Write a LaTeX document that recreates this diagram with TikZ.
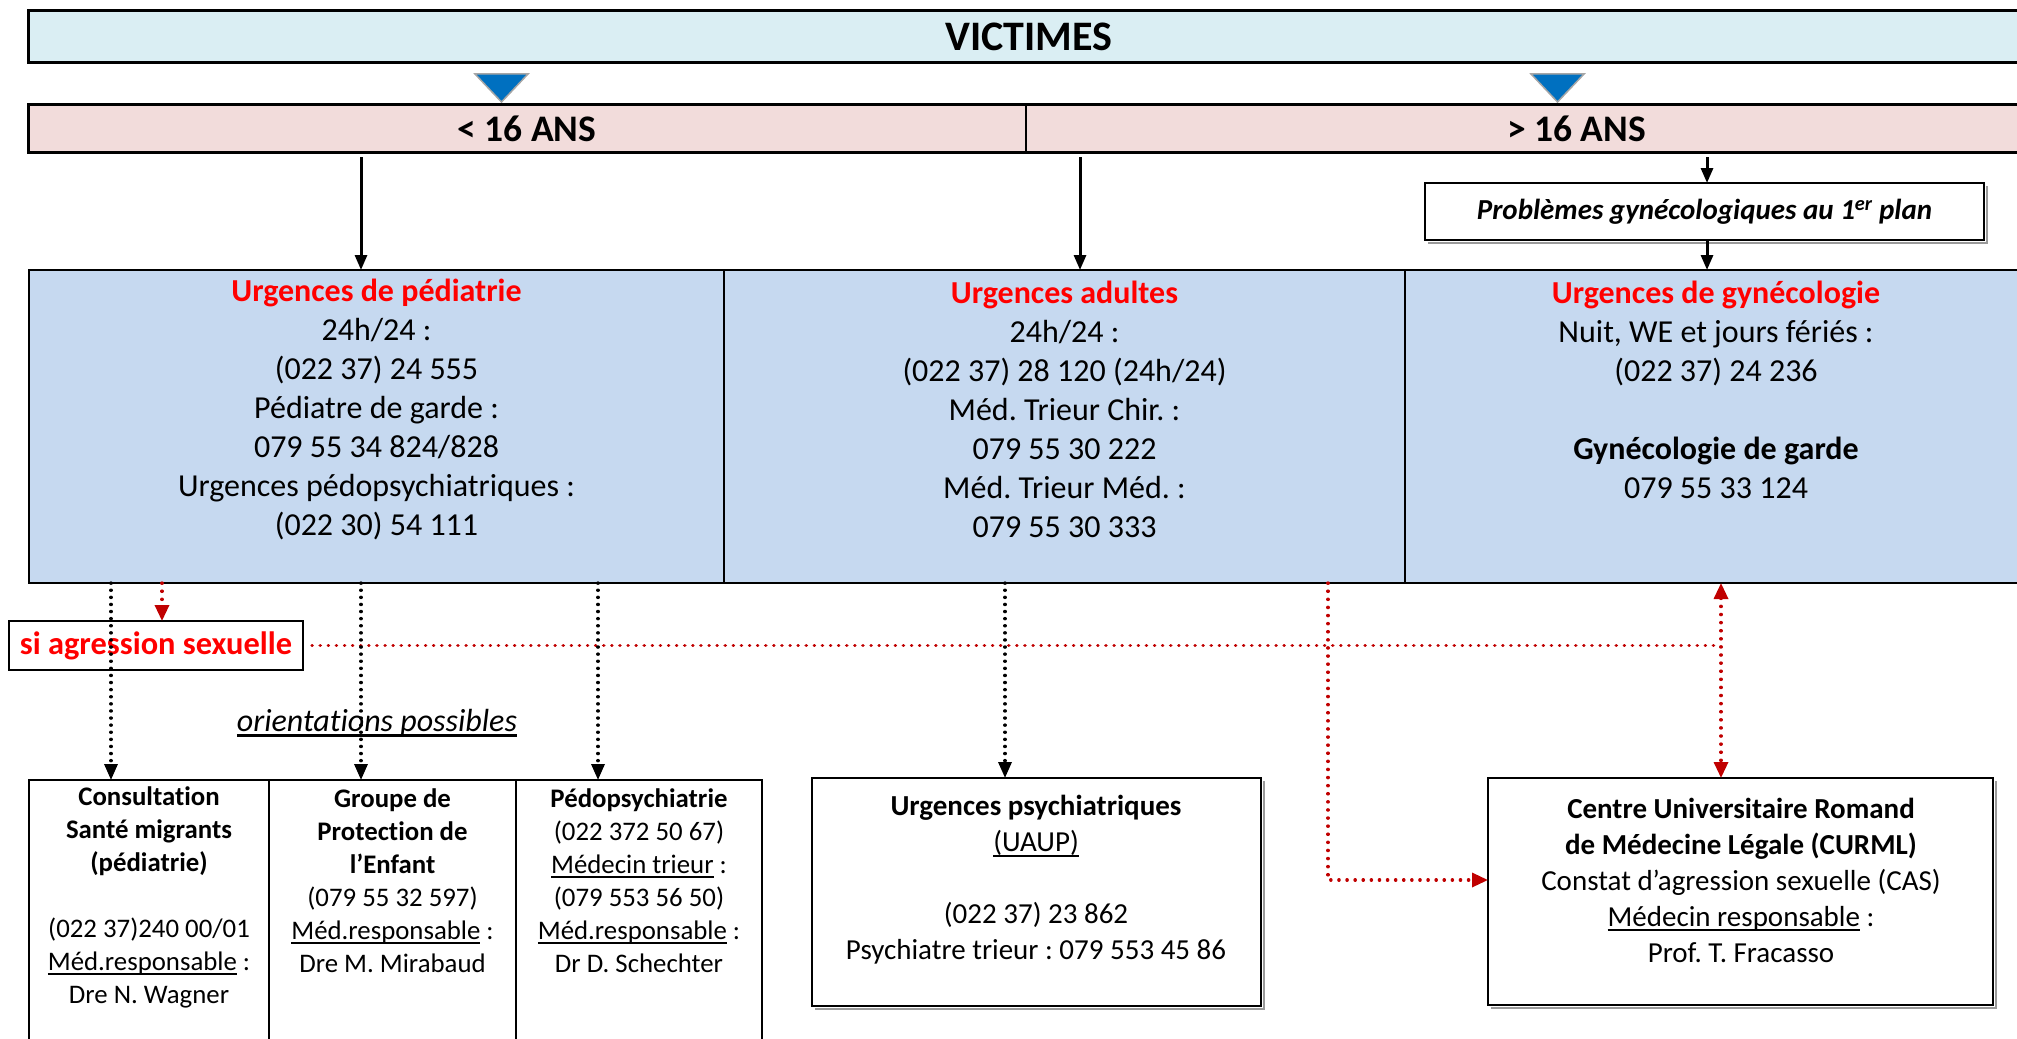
\documentclass[tikz,border=0pt]{standalone}
\usepackage{fontspec}
\setmainfont{Carlito}[Ligatures=NoCommon]
\usetikzlibrary{arrows.meta}
\definecolor{vicfill}{HTML}{DAEEF3}
\definecolor{barfill}{HTML}{F2DCDB}
\definecolor{cellfill}{HTML}{C6D9F0}
\definecolor{urgred}{HTML}{FF0000}
\definecolor{darkred}{HTML}{C00000}
\definecolor{triblue}{HTML}{0070C0}
\definecolor{trigray}{HTML}{A6A6A6}
\definecolor{shadowgray}{HTML}{9A9A9A}
\frenchspacing
\newcommand{\thickul}[1]{\setbox0\hbox{#1}\leavevmode\rlap{\rule[-0.17em]{\wd0}{0.075em}}\box0\relax}
\begin{document}
\begin{tikzpicture}[x=1pt,y=-1pt,
  plainbox/.style={inner sep=0pt, outer sep=0pt, anchor=north west},
  celltxt/.style={align=center, inner sep=0pt, font=\fontsize{32}{39}\selectfont},
  btxt/.style={align=center, inner sep=0pt, font=\fontsize{26.8}{33}\selectfont},
  mtxt/.style={align=center, inner sep=0pt, font=\fontsize{29}{36}\selectfont},
  solidarr/.style={line width=3pt, -{Triangle[length=15pt,width=12pt]}},
  blkdot/.style={line width=3.2pt, dash pattern=on 0.3pt off 6.8pt, line cap=round, -{Triangle[length=16pt,width=13pt]}},
  reddot/.style={draw=darkred, line width=3.3pt, dash pattern=on 0.3pt off 7.8pt, line cap=round},
  redtip/.tip={Triangle[length=16pt,width=14pt]},
  shadowline/.style={draw=shadowgray, line width=2pt},
  tri/.style={fill=triblue, draw=trigray, line width=1.5pt, line join=miter}
]
\useasboundingbox (0,0) rectangle (2017,1038);

% top
\node[plainbox, fill=vicfill, draw, line width=3pt, minimum width=2002pt, minimum height=52pt,
      font=\fontsize{42}{48}\selectfont\bfseries] (vic) at (28,11) {VICTIMES};
\draw[tri] (475,74) -- (528,74) -- (501.5,102) -- cycle;
\draw[tri] (1531,74) -- (1584,74) -- (1557.5,102) -- cycle;

\node[plainbox, fill=barfill, minimum width=998pt, minimum height=47pt,
      font=\fontsize{37.5}{42}\selectfont\bfseries] (lt) at (28,105) {< 16 ANS};
\node[plainbox, fill=barfill, minimum width=1101pt, minimum height=47pt,
      font=\fontsize{37.5}{42}\selectfont\bfseries] (gt) at (1026,105) {> 16 ANS};
\draw[line width=1.5pt] (lt.north east) -- (lt.south east);
\draw[line width=3pt] (lt.north west) rectangle (gt.south east);

\draw[shadowline] (1987,186) -- (1987,243) -- (1428,243);
\node[plainbox, draw, fill=white, line width=2pt, minimum width=559pt, minimum height=57pt,
      font=\fontsize{29}{32}\selectfont\bfseries\itshape] (prob) at (1425,183)
      {Problèmes gynécologiques au 1\textsuperscript{er} plan};

% cells
\node[plainbox, fill=cellfill, minimum width=695pt, minimum height=313pt] (c1) at (29,270) {};
\node[plainbox, fill=cellfill, minimum width=681pt, minimum height=313pt] (c2) at (724,270) {};
\node[plainbox, fill=cellfill, minimum width=720pt, minimum height=313pt] (c3) at (1405,270) {};
\draw[line width=2.5pt] (c1.north west) rectangle (c3.south east);
\draw[line width=2.5pt] (c1.north east) -- (c1.south east);
\draw[line width=2.5pt] (c2.north east) -- (c2.south east);

\coordinate (xa) at (361,0);
\coordinate (xb) at (1080,0);
\coordinate (xc) at (1707,0);
\draw[solidarr] ([yshift=-5pt]lt.south -| xa) -- (c1.north -| xa);
\draw[solidarr] ([yshift=-5pt]lt.south -| xb) -- (c2.north -| xb);
\draw[solidarr] ([yshift=-5pt]gt.south -| xc) -- (prob.north -| xc);
\draw[solidarr] (prob.south -| xc) -- (c3.north -| xc);

\node[celltxt] (t1) at (376.5,409) {\textcolor{urgred}{\bfseries Urgences de pédiatrie}\\24h/24 :\\(022 37) 24 555\\Pédiatre de garde :\\079 55 34 824/828\\Urgences pédopsychiatriques :\\(022 30) 54 111};
\node[celltxt] (t2) at (1064.5,409) {\textcolor{urgred}{\bfseries Urgences adultes}\\24h/24 :\\(022 37) 28 120 (24h/24)\\Méd. Trieur Chir. :\\079 55 30 222\\Méd. Trieur Méd. :\\079 55 30 333};
\node[celltxt] (t3) at (1716,390) {\textcolor{urgred}{\bfseries Urgences de gynécologie}\\Nuit, WE et jours fériés :\\(022 37) 24 236\\[39pt]\textbf{Gynécologie de garde}\\079 55 33 124};

% bottom
\node[plainbox, draw, line width=2.5pt, minimum width=294pt, minimum height=49pt,
      font=\fontsize{32.4}{36}\selectfont\bfseries, text=urgred] (agr) at (9,621) {si agression sexuelle};

\node[font=\fontsize{32}{36}\selectfont\itshape, inner sep=0pt] (ori) at (377,723) {\thickul{orientations possibles}};

\node[plainbox, draw, line width=2pt, minimum width=240pt, minimum height=290pt] (b1) at (29,780) {};
\node[plainbox, draw, line width=2pt, minimum width=247pt, minimum height=290pt] (b2) at (269,780) {};
\node[plainbox, draw, line width=2pt, minimum width=246pt, minimum height=290pt] (b3) at (516,780) {};

\node[btxt] (tb1) at (149,897) {\textbf{Consultation}\\\textbf{Santé migrants}\\\textbf{(pédiatrie)}\\[33pt](022 37)240 00/01\\\thickul{Méd.responsable} :\\Dre N. Wagner};
\node[btxt] (tb2) at (392.5,880.5) {\textbf{Groupe de}\\\textbf{Protection de}\\\textbf{l’Enfant}\\(079 55 32 597)\\\thickul{Méd.responsable} :\\Dre M. Mirabaud};
\node[btxt] (tb3) at (639,880.5) {\textbf{Pédopsychiatrie}\\(022 372 50 67)\\\thickul{Médecin trieur} :\\(079 553 56 50)\\\thickul{Méd.responsable} :\\Dr D. Schechter};

\draw[shadowline] (1264,781) -- (1264,1009) -- (815,1009);
\node[plainbox, draw, line width=2pt, minimum width=449pt, minimum height=228pt] (uaup) at (812,778) {};
\node[mtxt] (tu) at (1036,880) {\textbf{Urgences psychiatriques}\\\thickul{(UAUP)}\\[36pt](022 37) 23 862\\Psychiatre trieur : 079 553 45 86};

\draw[shadowline] (1996,781) -- (1996,1008) -- (1491,1008);
\node[plainbox, draw, line width=2pt, minimum width=505pt, minimum height=227pt] (curml) at (1488,778) {};
\node[mtxt] (tc) at (1741,880) {\textbf{Centre Universitaire Romand}\\\textbf{de Médecine Légale (CURML)}\\Constat d’agression sexuelle (CAS)\\\thickul{Médecin responsable} :\\Prof. T. Fracasso};

% connectors
\coordinate (xr) at (162,0);
\coordinate (rv) at (1721,0);
\coordinate (xl) at (1328,0);
\coordinate (yl) at (0,880);
\coordinate (x1) at (111,0);
\coordinate (x2) at (361,0);
\coordinate (x3) at (598,0);
\coordinate (x4) at (1005,0);

\draw[reddot, -redtip] (c1.south -| xr) -- (agr.north -| xr);
\draw[reddot, shorten >=6pt] ([xshift=9pt]agr.east) -- (agr.east -| rv);
\draw[reddot, redtip-redtip] (c3.south -| rv) -- (curml.north -| rv);
\draw[reddot, -redtip] (c2.south -| xl) |- (curml.west |- yl);

\draw[blkdot] (c1.south -| x1) -- (b1.north -| x1);
\draw[blkdot] (c1.south -| x2) -- (b2.north -| x2);
\draw[blkdot] (c1.south -| x3) -- (b3.north -| x3);
\draw[blkdot] (c2.south -| x4) -- (uaup.north -| x4);
\end{tikzpicture}
\end{document}
